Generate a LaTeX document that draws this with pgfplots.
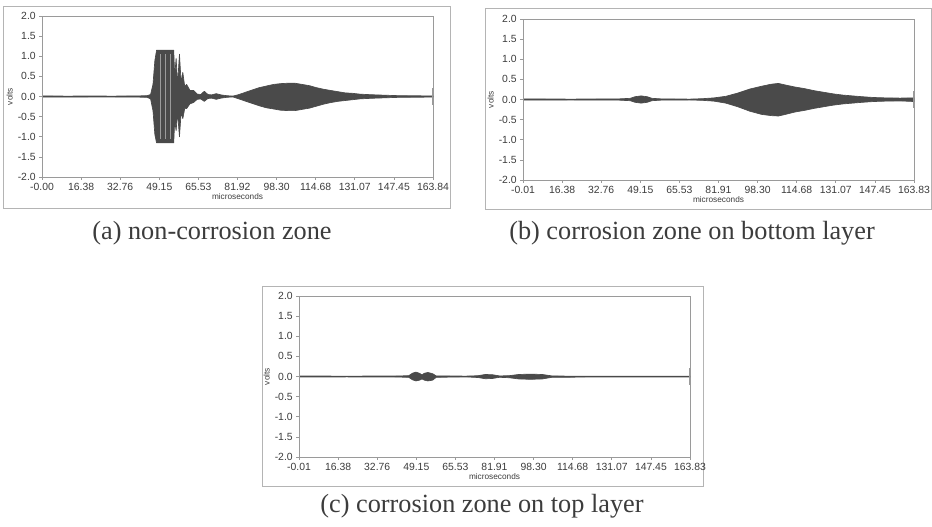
\documentclass[border=0pt]{standalone}
\usepackage{fontspec}
\setmainfont{Liberation Serif}
\newfontfamily\arial{Liberation Sans}
\usepackage{pgfplots}
\pgfplotsset{compat=1.18}

\definecolor{axgray}{HTML}{9A9A9A}
\definecolor{boxgray}{HTML}{B4B4B4}
\definecolor{txtgray}{HTML}{3C3C3C}
\definecolor{sig}{HTML}{4A4A4A}

% upper envelope forward, lower envelope back
\pgfplotsset{
  sigaxis/.style={
    scale only axis,
    width=293.25pt, height=120.75pt,
    xmin=0, xmax=163.84, ymin=-2, ymax=2,
    axis line style={draw=axgray, line width=0.6pt},
    tick style={draw=axgray, line width=0.5pt},
    tick align=outside, major tick length=2.2pt,
    xtick pos=bottom, ytick pos=left,
    ytick={-2,-1.5,-1,-0.5,0,0.5,1,1.5,2},
    yticklabels={-2.0,-1.5,-1.0,-0.5,0.0,0.5,1.0,1.5,2.0},
    xtick={0,16.384,32.768,49.152,65.536,81.92,98.304,114.688,131.072,147.456,163.84},
    tick label style={font=\arial\fontsize{7.8}{9}\selectfont, text=txtgray},
    xticklabel style={yshift=1pt},
    yticklabel style={xshift=1pt},
    xlabel={microseconds}, ylabel={volts},
    label style={font=\arial\fontsize{6.2}{7}\selectfont, text=txtgray},
    xlabel style={yshift=4.5pt},
    ylabel style={yshift=-3pt},
  },
  env/.style={fill=sig, draw=sig, line width=0.5pt, line join=round},
  endbar/.style={draw=axgray, line width=0.6pt},
  stripe/.style={draw=sig!55!white, line width=0.3pt},
}

\begin{document}
\begin{tikzpicture}
\path[use as bounding box] (0,0) rectangle (699pt,-394.5pt);

% outer frames
\draw[boxgray, line width=0.6pt] (2.6pt,-4.9pt) rectangle (337.5pt,-156pt);
\draw[boxgray, line width=0.6pt] (363.75pt,-6.4pt) rectangle (698.2pt,-156.75pt);
\draw[boxgray, line width=0.6pt] (196.5pt,-214.5pt) rectangle (527.25pt,-364.5pt);

% (a)
\begin{axis}[sigaxis, at={(31.5pt,-132.75pt)}, anchor=south west,
  xticklabels={-0.00,16.38,32.76,49.15,65.53,81.92,98.30,114.68,131.07,147.45,163.84}]
\addplot[env] coordinates {
  (0,0.015) (10,0.01) (20,0.012) (30,0.01) (40,0.015) (44,0.02)
  (45.5,0.05) (46.5,0.3) (47.3,0.9) (48.0,1.15) (55.2,1.15) (55.6,0.5)
  (56.2,0.95) (56.8,0.3) (57.6,1.05) (58.3,0.35) (59.0,0.6) (59.8,0.25)
  (60.6,0.3) (62.0,0.15) (63.5,0.15) (65.0,0.06) (66.5,0.05) (68.0,0.13)
  (69.5,0.05) (71.0,0.04) (73.0,0.07) (75.0,0.04) (77.5,0.02) (80.0,0.01)
  (82.0,0.04) (85.0,0.1) (88.0,0.16) (91.0,0.22) (94.0,0.26) (97.0,0.3)
  (100.0,0.32) (103.0,0.33) (106.0,0.33) (109.0,0.3) (112.0,0.27) (115.0,0.22)
  (118.0,0.18) (121.0,0.15) (124.0,0.12) (127.0,0.09) (130.0,0.08) (133.0,0.06)
  (136.0,0.05) (140.0,0.04) (145.0,0.03) (150.0,0.02) (163.84,0.015)
  (163.84,-0.015) (150.0,-0.02) (145.0,-0.03) (140.0,-0.04) (136.0,-0.05)
  (133.0,-0.06) (130.0,-0.08) (127.0,-0.1) (124.0,-0.12) (121.0,-0.15)
  (118.0,-0.19) (115.0,-0.24) (112.0,-0.29) (109.0,-0.32) (106.0,-0.35)
  (103.0,-0.35) (100.0,-0.34) (97.0,-0.31) (94.0,-0.28) (91.0,-0.23)
  (88.0,-0.17) (85.0,-0.11) (82.0,-0.05) (80.0,-0.01) (77.5,-0.02)
  (75.0,-0.04) (73.0,-0.07) (71.0,-0.04) (69.5,-0.05) (68.0,-0.12)
  (66.5,-0.06) (65.0,-0.07) (63.5,-0.15) (62.0,-0.18) (60.6,-0.3)
  (59.8,-0.3) (59.0,-0.55) (58.3,-0.4) (57.6,-1.0) (56.8,-0.4) (56.2,-0.85)
  (55.6,-0.6) (55.2,-1.15) (48.0,-1.15) (47.3,-0.95) (46.5,-0.35)
  (45.5,-0.06) (44,-0.02) (40,-0.015) (30,-0.012) (20,-0.012) (10,-0.015)
  (0,-0.015)
};
\addplot[stripe] coordinates {(49.4,1.05) (49.4,-1.05)};
\addplot[stripe] coordinates {(51.6,1.05) (51.6,-1.05)};
\addplot[stripe] coordinates {(53.7,1.05) (53.7,-1.05)};
\addplot[endbar] coordinates {(0.3,0.2) (0.3,-0.2)};
\addplot[endbar] coordinates {(163.5,0.2) (163.5,-0.2)};
\end{axis}

% (b)
\begin{axis}[sigaxis, at={(392.25pt,-135pt)}, anchor=south west,
  xticklabels={-0.01,16.38,32.76,49.15,65.53,81.91,98.30,114.68,131.07,147.45,163.83}]
\addplot[env] coordinates {
  (0,0.015) (20,0.01) (40,0.015) (45,0.03) (47,0.07) (49.5,0.09) (52,0.07)
  (54,0.03) (58,0.015) (70,0.01) (75,0.02) (80,0.04) (85,0.08) (90,0.16)
  (95,0.26) (100,0.33) (104,0.38) (107,0.4) (110,0.36) (114,0.31) (118,0.27)
  (122,0.22) (126,0.18) (130,0.14) (134,0.11) (138,0.09) (142,0.07)
  (147,0.05) (152,0.04) (158,0.035) (163.83,0.04)
  (163.83,-0.05) (158,-0.035) (152,-0.04) (147,-0.05) (142,-0.07)
  (138,-0.09) (134,-0.11) (130,-0.14) (126,-0.18) (122,-0.22) (118,-0.27)
  (114,-0.31) (110,-0.37) (107,-0.41) (104,-0.4) (100,-0.37) (95,-0.29)
  (90,-0.18) (85,-0.09) (80,-0.04) (75,-0.02) (70,-0.012) (58,-0.015)
  (54,-0.03) (52,-0.07) (49.5,-0.09) (47,-0.07) (45,-0.03) (40,-0.015)
  (20,-0.012) (0,-0.015)
};
\addplot[endbar] coordinates {(0.3,0.2) (0.3,-0.2)};
\addplot[endbar] coordinates {(163.5,0.2) (163.5,-0.2)};
\end{axis}

% (c)
\begin{axis}[sigaxis, at={(224.25pt,-342.75pt)}, anchor=south west,
  xticklabels={-0.01,16.38,32.76,49.15,65.53,81.91,98.30,114.68,131.07,147.45,163.83}]
\addplot[env] coordinates {
  (0,0.012) (20,0.01) (40,0.012) (46,0.02) (47.5,0.08) (49,0.11) (50.5,0.08)
  (51.5,0.04) (52.5,0.08) (54,0.1) (56,0.07) (57.5,0.015) (70,0.01)
  (75,0.02) (78,0.05) (81,0.045) (84,0.015) (88,0.02) (92,0.05) (97,0.06)
  (102,0.05) (106,0.015) (112,0.01) (120,0.01) (163.83,0.01)
  (163.83,-0.012) (120,-0.012) (112,-0.02) (106,-0.02) (102,-0.06)
  (97,-0.07) (92,-0.06) (88,-0.03) (84,-0.02) (81,-0.05) (78,-0.055)
  (75,-0.025) (70,-0.01) (57.5,-0.02) (56,-0.09) (54,-0.11) (52.5,-0.09)
  (51.5,-0.06) (50.5,-0.09) (49,-0.11) (47.5,-0.08) (46,-0.02) (40,-0.012)
  (20,-0.01) (0,-0.012)
};
\addplot[endbar] coordinates {(0.3,0.2) (0.3,-0.2)};
\addplot[endbar] coordinates {(163.5,0.2) (163.5,-0.2)};
\end{axis}

% captions
\node[text=txtgray, font=\fontsize{19.7}{22}\selectfont] at (159pt,-174.75pt) {(a) non-corrosion zone};
\node[text=txtgray, font=\fontsize{19.7}{22}\selectfont] at (519pt,-174.75pt) {(b) corrosion zone on bottom layer};
\node[text=txtgray, font=\fontsize{19.7}{22}\selectfont] at (361.5pt,-379.5pt) {(c) corrosion zone on top layer};
\end{tikzpicture}
\end{document}
